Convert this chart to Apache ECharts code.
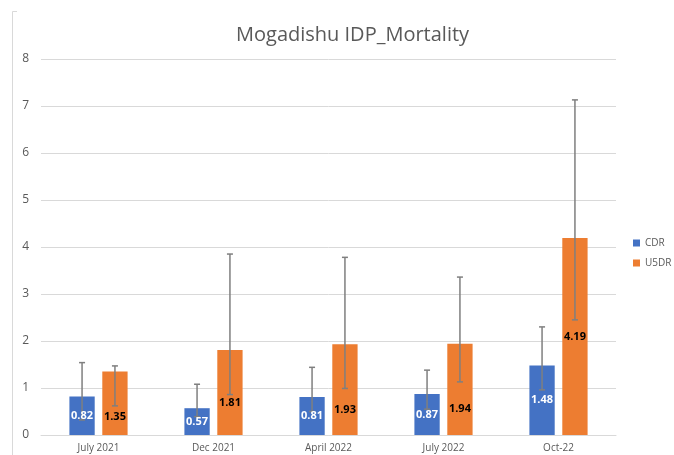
<!DOCTYPE html>
<html>
<head>
<meta charset="utf-8">
<title>Mogadishu IDP_Mortality</title>
<script src="https://cdn.jsdelivr.net/npm/echarts@6/dist/echarts.min.js"></script>
<style>
  html, body { margin: 0; padding: 0; background: #fff; }
  #main { width: 674px; height: 455px; }
</style>
</head>
<body>
<div id="main"></div>
<script>
// rounds of the survey
const categories = ['July 2021', 'Dec 2021', 'April 2022', 'July 2022', 'Oct-22'];

// crude death rate, point estimate and CI
const cdrValues = [0.82, 0.57, 0.81, 0.87, 1.48];
const cdrLow = [0.32, 0.39, 0.50, 0.55, 0.96];
const cdrHigh = [1.54, 1.08, 1.44, 1.38, 2.30];

// under-five death rate, point estimate and CI
const u5drValues = [1.35, 1.81, 1.93, 1.94, 4.19];
const u5drLow = [0.62, 0.86, 0.99, 1.13, 2.45];
const u5drHigh = [1.47, 3.85, 3.78, 3.36, 7.13];

const yTicks = [0, 1, 2, 3, 4, 5, 6, 7, 8];

// style bits
const BAR_W = 0.22;   // share of the category band
const BAR_GAP = 0.3;  // share of a bar width
const textColor = '#595959';
const fontFam = '"Open Sans", "Liberation Sans", sans-serif';
const u5drLabelShift = [14, 10, 20, 19, 0]; // labels nudged down, as in the excel chart

const chart = echarts.init(document.getElementById('main'));

// error bar + value label, drawn on top of the bars
function errorSeries(name, values, low, high, side, labelColor, shifts) {
  const data = values.map((v, i) => [i, v, low[i], high[i]]);
  return {
    name: name + ' err',
    type: 'custom',
    z: 5,
    silent: true,
    data: data,
    encode: { x: 0, y: [1, 2, 3] },
    renderItem: function (params, api) {
      const idx = api.value(0);
      const band = api.size([1, 0])[0];
      const off = side * band * BAR_W * (1 + BAR_GAP) / 2;
      const x = api.coord([idx, 0])[0] + off;
      const base = api.coord([idx, 0])[1];
      const yTop = api.coord([idx, api.value(3)])[1];
      const yBot = api.coord([idx, api.value(2)])[1];
      const yVal = api.coord([idx, api.value(1)])[1];
      const cap = 3;
      const st = { stroke: '#7f7f7f', lineWidth: 1.5 };
      return {
        type: 'group',
        children: [
          { type: 'line', shape: { x1: x, y1: yTop, x2: x, y2: yBot }, style: st },
          { type: 'line', shape: { x1: x - cap, y1: yTop, x2: x + cap, y2: yTop }, style: st },
          { type: 'line', shape: { x1: x - cap, y1: yBot, x2: x + cap, y2: yBot }, style: st },
          {
            type: 'text',
            z2: 10,
            style: {
              x: x,
              y: (base + yVal) / 2 + (shifts ? shifts[idx] : 0),
              text: api.value(1).toFixed(2),
              fill: labelColor,
              font: 'bold 11px ' + fontFam,
              align: 'center',
              verticalAlign: 'middle'
            }
          }
        ]
      };
    }
  };
}

const option = {
  backgroundColor: '#fff',
  animation: false,
  title: {
    text: 'Mogadishu IDP_Mortality',
    left: 231,
    top: 20,
    textStyle: { fontFamily: fontFam, fontSize: 20, fontWeight: 'normal', color: textColor }
  },
  legend: {
    data: ['CDR', 'U5DR'],
    orient: 'vertical',
    left: 633,
    top: 238,
    padding: 0,
    itemWidth: 7,
    itemHeight: 7,
    itemGap: 10,
    icon: 'rect',
    textStyle: { fontFamily: fontFam, fontSize: 10, color: textColor }
  },
  grid: { left: 41, right: 58, top: 59, bottom: 20, containLabel: false },
  xAxis: {
    type: 'category',
    data: categories,
    axisTick: { show: false },
    axisLine: { lineStyle: { color: '#d9d9d9', width: 1 } },
    axisLabel: { color: textColor, fontFamily: fontFam, fontSize: 10, margin: 8 }
  },
  yAxis: {
    type: 'value',
    min: yTicks[0],
    max: yTicks[yTicks.length - 1],
    interval: 1,
    axisLine: { show: false },
    axisTick: { show: false },
    splitLine: { lineStyle: { color: '#d9d9d9', width: 1 } },
    axisLabel: { color: textColor, fontFamily: fontFam, fontSize: 12, margin: 12 }
  },
  graphic: [
    {
      type: 'polyline',
      silent: true,
      shape: { points: [[17, 11.5], [12.5, 11.5], [12.5, 455]] },
      style: { stroke: '#d9d9d9', lineWidth: 1, fill: null }
    }
  ],
  series: [
    {
      name: 'CDR',
      type: 'bar',
      barWidth: (BAR_W * 100) + '%',
      barGap: (BAR_GAP * 100) + '%',
      itemStyle: { color: '#4472C4' },
      data: cdrValues
    },
    {
      name: 'U5DR',
      type: 'bar',
      barWidth: (BAR_W * 100) + '%',
      barGap: (BAR_GAP * 100) + '%',
      itemStyle: { color: '#ED7D31' },
      data: u5drValues
    },
    errorSeries('CDR', cdrValues, cdrLow, cdrHigh, -1, '#ffffff', null),
    errorSeries('U5DR', u5drValues, u5drLow, u5drHigh, 1, '#000000', u5drLabelShift)
  ]
};

chart.setOption(option);
</script>
</body>
</html>
